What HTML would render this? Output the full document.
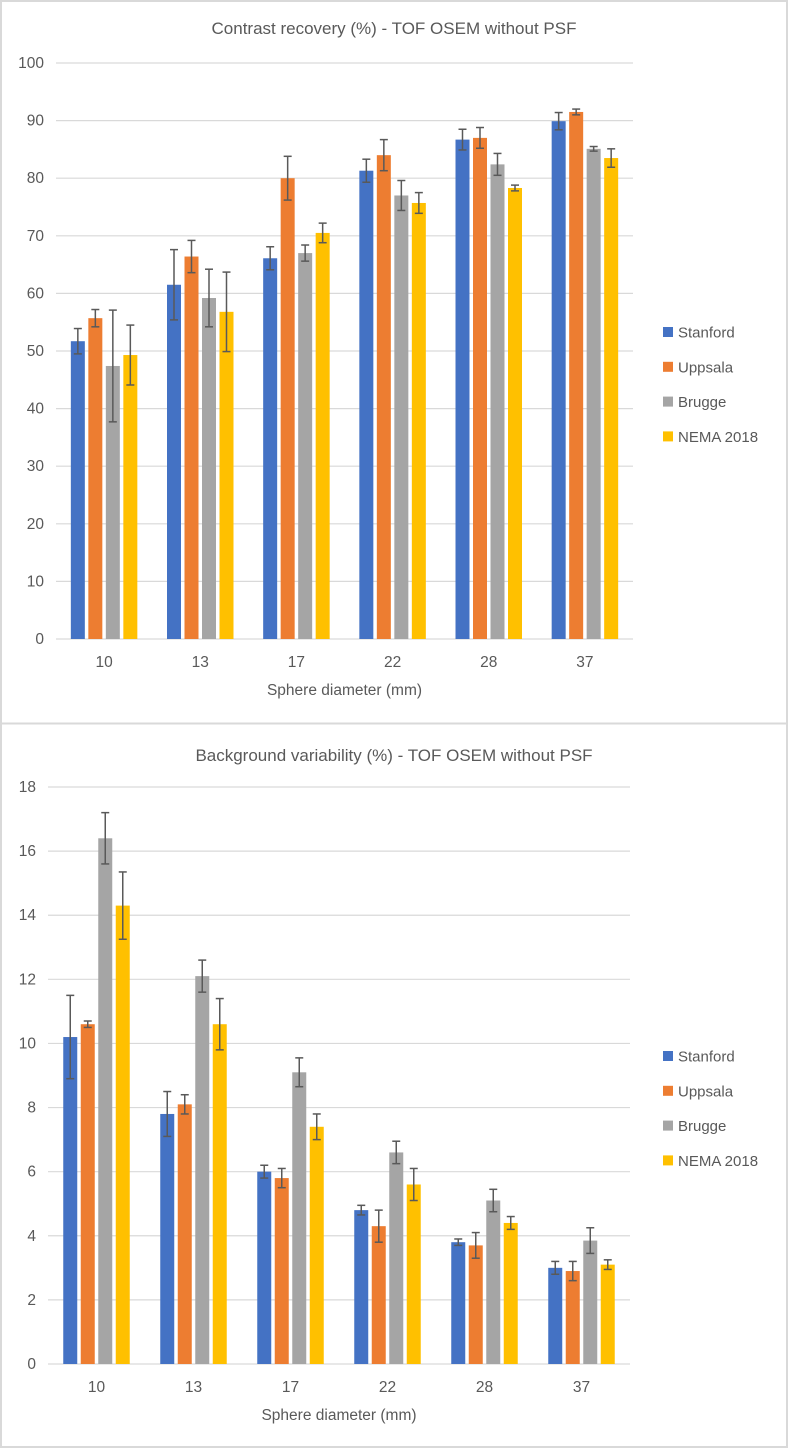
<!DOCTYPE html>
<html><head><meta charset="utf-8"><style>
body{margin:0;background:#fff;}
svg{display:block;font-family:"Liberation Sans",sans-serif;}
</style></head><body>
<svg id="svg" width="788" height="1449">
<rect x="1" y="1" width="786" height="1446" fill="#fff" stroke="#d9d9d9" stroke-width="2"/>
<line x1="0" y1="723.5" x2="788" y2="723.5" stroke="#d9d9d9" stroke-width="2"/>
</svg>
<script>
const categories = ["10","13","17","22","28","37"];
const seriesNames = ["Stanford","Uppsala","Brugge","NEMA 2018"];
const colors = ["#4472c4","#ed7d31","#a5a5a5","#ffc000"];
const crStanford = [51.7,61.5,66.1,81.3,86.7,89.9];
const crUppsala = [55.7,66.4,80.0,84.0,87.0,91.5];
const crBrugge = [47.4,59.2,67.0,77.0,82.4,85.1];
const crNema = [49.3,56.8,70.5,75.7,78.3,83.5];
const crErrStanford = [2.2,6.1,2.0,2.0,1.8,1.5];
const crErrUppsala = [1.5,2.8,3.8,2.7,1.8,0.5];
const crErrBrugge = [9.7,5.0,1.4,2.6,1.9,0.4];
const crErrNema = [5.2,6.9,1.7,1.8,0.5,1.6];
const crTicks = [0,10,20,30,40,50,60,70,80,90,100];
const bvStanford = [10.2,7.8,6.0,4.8,3.8,3.0];
const bvUppsala = [10.6,8.1,5.8,4.3,3.7,2.9];
const bvBrugge = [16.4,12.1,9.1,6.6,5.1,3.85];
const bvNema = [14.3,10.6,7.4,5.6,4.4,3.1];
const bvErrStanford = [1.3,0.7,0.2,0.15,0.1,0.2];
const bvErrUppsala = [0.1,0.3,0.3,0.5,0.4,0.3];
const bvErrBrugge = [0.8,0.5,0.45,0.35,0.35,0.4];
const bvErrNema = [1.05,0.8,0.4,0.5,0.2,0.15];
const bvTicks = [0,2,4,6,8,10,12,14,16,18];

const NS="http://www.w3.org/2000/svg";
const svg=document.getElementById('svg');
function mk(tag,attrs,parent){const e=document.createElementNS(NS,tag);for(const k in attrs)e.setAttribute(k,attrs[k]);(parent||svg).appendChild(e);return e;}

function chart(o){
  const g=mk('g',{});
  
  
  const yMax=o.ticks[o.ticks.length-1];
  const y=v=>o.y0-(v/yMax)*(o.y0-o.yTop);
  const band=(o.x1-o.x0)/categories.length;
  const cx=i=>o.x0+band*(i+0.5);
  const t=mk('text',{x:394,y:o.titleY,'text-anchor':'middle','font-size':17,fill:'#595959'},g);
  t.textContent=o.title;
  
  
  o.ticks.forEach(v=>{
    const l=mk('line',{x1:o.x0,x2:o.x1,y1:y(v),y2:y(v),stroke:'#d9d9d9','stroke-width':1.2},g);
    
    
    const tx=mk('text',{x:o.x0-12,y:y(v)+5,'text-anchor':'end','font-size':15.5,fill:'#595959'},g);
    tx.textContent=v;
    
    
  });
  categories.forEach((c,i)=>{
    const tx=mk('text',{x:cx(i),y:o.y0+28,'text-anchor':'middle','font-size':15.5,fill:'#595959'},g);
    tx.textContent=c;
    
    
  });
  const bw=14, pitch=17.5;
  o.series.forEach((s,si)=>{
    s.forEach((v,i)=>{
      const bx=cx(i)+(si-1.5)*pitch-bw/2;
      const r=mk('rect',{x:bx,y:y(v),width:bw,height:o.y0-y(v),fill:colors[si]},g);
      
      
      const e=o.errs[si][i], mx=bx+bw/2;
      const eg=mk('g',{stroke:'#595959','stroke-width':1.5},g);
      
      
      mk('line',{x1:mx,x2:mx,y1:y(v+e),y2:y(v-e)},eg);
      mk('line',{x1:mx-4,x2:mx+4,y1:y(v+e),y2:y(v+e)},eg);
      mk('line',{x1:mx-4,x2:mx+4,y1:y(v-e),y2:y(v-e)},eg);
    });
  });
  const at=mk('text',{x:(o.x0+o.x1)/2,y:o.y0+56,'text-anchor':'middle','font-size':15.5,fill:'#595959'},g);
  at.textContent='Sphere diameter (mm)';
  
  
  seriesNames.forEach((n,si)=>{
    const lg=mk('g',{},g);
    
    
    const ly=o.legY+si*34.8;
    mk('rect',{x:663,y:ly-5,width:10,height:10,fill:colors[si]},lg);
    const lt=mk('text',{x:678,y:ly+5.5,'font-size':15,fill:'#595959'},lg);
    lt.textContent=n;
  });
}
chart({name:'contrast-recovery-chart',title:'Contrast recovery (%) - TOF OSEM without PSF',titleY:34,
  x0:56,x1:633,y0:639,yTop:63,ticks:crTicks,legY:332,
  series:[crStanford,crUppsala,crBrugge,crNema],errs:[crErrStanford,crErrUppsala,crErrBrugge,crErrNema]});
chart({name:'background-variability-chart',title:'Background variability (%) - TOF OSEM without PSF',titleY:761,
  x0:48,x1:630,y0:1364,yTop:787,ticks:bvTicks,legY:1056,
  series:[bvStanford,bvUppsala,bvBrugge,bvNema],errs:[bvErrStanford,bvErrUppsala,bvErrBrugge,bvErrNema]});
</script>
</body></html>
